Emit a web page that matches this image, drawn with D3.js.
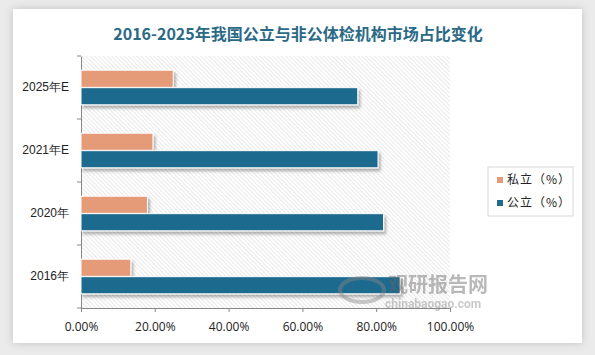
<!DOCTYPE html>
<html>
<head>
<meta charset="utf-8">
<script src="https://cdn.jsdelivr.net/npm/d3@7"></script>
<style>
  body { margin: 0; background: #ebebeb; }
  svg { display: block; font-family: "Noto Sans CJK SC", "Noto Sans", sans-serif; }
</style>
</head>
<body>
<div id="canvas"></div>
<script>
const categories = ['2016年', '2020年', '2021年E', '2025年E'];
const seriesNames = ['私立（%）', '公立（%）'];
const privateValues = [13.5, 18, 19.5, 25];
const publicValues = [86.5, 82, 80.5, 75];
const xTicks = [0, 20, 40, 60, 80, 100];
const colors = ['#e59a78', '#1f6a8e'];

const W = 595, H = 355;
const margin = { top: 56, right: 145, bottom: 47, left: 81 };
const graphWidth = 450 - margin.left;
const graphHeight = 308 - margin.top;

const svg = d3.select('#canvas').append('svg').attr('width', W).attr('height', H);
const defs = svg.append('defs');

// card shadow
const cardShadow = defs.append('filter').attr('id', 'cardShadow')
  .attr('x', '-5%').attr('y', '-5%').attr('width', '110%').attr('height', '110%');
cardShadow.append('feDropShadow').attr('dx', 0).attr('dy', 0)
  .attr('stdDeviation', 4).attr('flood-color', '#000').attr('flood-opacity', 0.18);

const barShadow = defs.append('filter').attr('id', 'barShadow')
  .attr('x', '-5%').attr('y', '-30%').attr('width', '115%').attr('height', '180%');
barShadow.append('feDropShadow').attr('dx', 2).attr('dy', 3)
  .attr('stdDeviation', 1.5).attr('flood-color', '#000').attr('flood-opacity', 0.3);

const hatch = defs.append('pattern').attr('id', 'hatch')
  .attr('patternUnits', 'userSpaceOnUse').attr('width', 3).attr('height', 3)
  .attr('patternTransform', 'rotate(-45)');
hatch.append('rect').attr('width', 3).attr('height', 3).attr('fill', '#fff');
hatch.append('line').attr('x1', 0).attr('y1', 0).attr('x2', 0).attr('y2', 3)
  .attr('stroke', '#d4d4d4').attr('stroke-width', 1);

svg.append('rect').attr('x', 13).attr('y', 9).attr('width', 569).attr('height', 334)
  .attr('fill', '#fff').attr('filter', 'url(#cardShadow)');

svg.append('text').attr('x', 298).attr('y', 40).attr('text-anchor', 'middle')
  .attr('font-size', 16).attr('font-weight', 'bold').attr('fill', '#2a6a86')
  .text('2016-2025年我国公立与非公体检机构市场占比变化');

const graph = svg.append('g').attr('transform', `translate(${margin.left}, ${margin.top})`);

const xScale = d3.scaleLinear().domain([0, 100]).range([0, graphWidth]);
const yScale = d3.scaleBand().domain(categories).range([graphHeight, 0])
  .paddingInner(0.44).paddingOuter(0.22);
const sub = d3.scaleBand().domain(seriesNames).range([0, yScale.bandwidth()]).padding(0.02);

graph.append('rect').attr('width', graphWidth).attr('height', graphHeight).attr('fill', 'url(#hatch)');

const xAxis = d3.axisBottom(xScale).tickValues(xTicks).tickSize(4)
  .tickFormat(d => d3.format('.2f')(d) + '%');
const xAxisGroup = graph.append('g').attr('transform', `translate(0, ${graphHeight})`).call(xAxis);
xAxisGroup.selectAll('text').attr('font-size', 12).attr('fill', '#222').attr('dy', '1.3em')
  .attr('font-family', '"Open Sans", "Noto Sans", sans-serif');

const yAxis = d3.axisLeft(yScale).tickSize(0).tickPadding(12);
const yAxisGroup = graph.append('g').call(yAxis);
yAxisGroup.selectAll('text').attr('font-size', 12).attr('fill', '#222');
// boundary ticks between categories
const step = yScale.step();
yAxisGroup.selectAll('.bound').data(d3.range(categories.length + 1)).enter().append('line')
  .attr('x1', -4).attr('x2', 0)
  .attr('y1', i => graphHeight - i * step).attr('y2', i => graphHeight - i * step)
  .attr('stroke', '#888');
graph.selectAll('.domain').attr('stroke', '#888');
xAxisGroup.selectAll('.tick line').attr('stroke', '#888');

const rows = categories.map((c, i) => ({ cat: c, vals: [privateValues[i], publicValues[i]] }));
const groups = graph.selectAll('.row').data(rows).enter().append('g')
  .attr('transform', d => `translate(0, ${yScale(d.cat)})`);
groups.selectAll('rect').data(d => d.vals.map((v, j) => ({ v, j }))).enter().append('rect')
  .attr('x', 0)
  .attr('y', d => sub(seriesNames[d.j]))
  .attr('width', d => xScale(d.v))
  .attr('height', sub.bandwidth())
  .attr('fill', d => colors[d.j])
  .attr('stroke', '#fff').attr('stroke-width', 1)
  .attr('filter', 'url(#barShadow)');

// legend
const legend = svg.append('g').attr('transform', 'translate(488, 167)');
legend.append('rect').attr('width', 85).attr('height', 49).attr('fill', '#fff').attr('stroke', '#d8d8d8');
const items = legend.selectAll('.item').data(seriesNames).enter().append('g')
  .attr('transform', (d, i) => `translate(9, ${13 + i * 23})`);
items.append('rect').attr('x', 0).attr('y', -3).attr('width', 6).attr('height', 6)
  .attr('fill', (d, i) => colors[i]);
items.append('text').attr('x', 10).attr('y', 0).attr('dy', '0.35em')
  .attr('font-size', 12).attr('fill', '#222').attr('letter-spacing', 1).text(d => d);

// watermark
const wm = svg.append('g').attr('opacity', 0.45);
wm.append('ellipse').attr('cx', 362).attr('cy', 290).attr('rx', 22).attr('ry', 12)
  .attr('fill', 'none').attr('stroke', '#888').attr('stroke-width', 4);
wm.append('text').attr('x', 388).attr('y', 292).attr('font-size', 20).attr('font-weight', 'bold')
  .attr('fill', '#666').text('观研报告网');
wm.append('text').attr('x', 385).attr('y', 308).attr('font-size', 12).attr('font-weight', 'bold')
  .attr('fill', '#888').attr('font-family', 'Roboto, sans-serif').text('chinabaogao.com');
</script>
</body>
</html>
